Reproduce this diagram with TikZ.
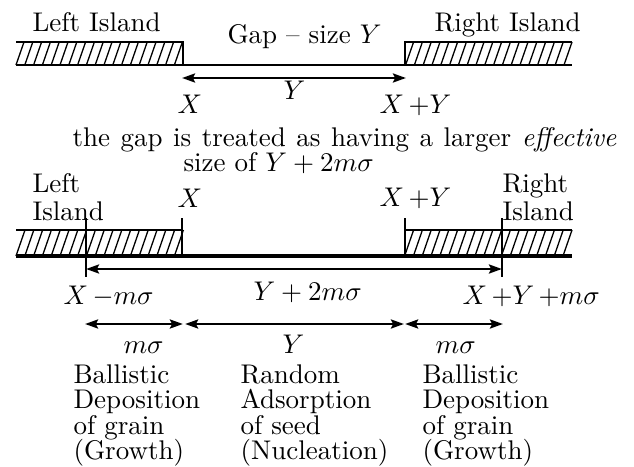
\documentclass[tikz,border=0pt]{standalone}
\usetikzlibrary{arrows.meta}
\setlength{\lineskiplimit}{-10pt}
\tikzset{
  edgeline/.style={line width=1pt},
  hatchline/.style={line width=0.48pt},
  dimarrow/.style={line width=1.1pt,
    {Stealth[length=4.8pt,width=3.3pt,inset=0.8pt]}-{Stealth[length=4.8pt,width=3.3pt,inset=0.8pt]}},
  lbl/.style={inner sep=0pt,anchor=base west},
  blk/.style={inner sep=0pt,anchor=base west,align=left},
}
\begin{document}
\begin{tikzpicture}[x=0.37037pt,y=-0.37037pt,font=\fontsize{10}{9.44}\selectfont]
  \useasboundingbox (0,0) rectangle (634,466);

  % upper sketch: the real gap
  \draw[edgeline] (16,42) -- (183,42) -- (183,65);
  \draw[edgeline] (16,65) -- (572,65);
  \draw[edgeline] (405,65) -- (405,42) -- (572,42);
  \foreach \k in {0,...,18} {
    \draw[hatchline] ({16+8.8*\k},65) -- ({24+8.8*\k},42);
    \draw[hatchline] ({564-8.8*\k},65) -- ({572-8.8*\k},42);
  }
  \coordinate (gapL) at (182,78);
  \coordinate (gapR) at (406,78);
  \draw[dimarrow] (gapL) -- (gapR);

  \node[lbl] (leftT) at (32,32) {Left Island};
  \node[lbl] (gapT) at (227,44) {Gap -- size $Y$};
  \node[lbl] (rightT) at (434,32) {Right Island};
  \node[lbl] (yT) at (283,100) {$Y$};
  \node[lbl] (xT) at (177,113) {$X$};
  \node[lbl] (xyT) at (379,113) {$X\,{+}Y$};

  \node[lbl] (noteA) at (72,146) {\spaceskip=3.9pt the gap is treated as having a larger \emph{effective}};
  \node[lbl] (noteB) at (183,171) {size of $Y+2m\sigma$};

  % lower sketch: the effective gap
  \draw[edgeline] (16,230) -- (182,230);
  \draw[edgeline] (182,218) -- (182,256);
  \draw[line width=1.33pt] (16,256) -- (572,256);
  \draw[edgeline] (405,218) -- (405,256);
  \draw[edgeline] (405,230) -- (572,230);
  \foreach \k in {0,...,18} {
    \draw[hatchline] ({16+8.8*\k},256) -- ({25+8.8*\k},230);
    \draw[hatchline] ({563-8.8*\k},256) -- ({572-8.8*\k},230);
  }
  \coordinate (effL) at (86,269);
  \coordinate (effR) at (502,269);
  \draw[edgeline] (86,218) -- (86,277);
  \draw[edgeline] (502,218) -- (502,277);
  \draw[dimarrow] (effL) -- (effR);

  \node[blk] (leftB) at (32,220) {Left\\[0.9pt]Island};
  \node[lbl] (xB) at (177,208) {$X$};
  \node[lbl] (xyB) at (379,207) {$X\,{+}Y$};
  \node[blk] (rightB) at (502,220) {Right\\[0.9pt]Island};
  \node[lbl] (xmB) at (63,304) {$X\,{-}m\sigma$};
  \node[lbl] (effT) at (253,300) {$Y+2m\sigma$};
  \node[lbl] (xypB) at (462,304) {$X\,{+}Y\,{+}m\sigma$};

  % the three zones
  \coordinate (z0) at (85,324);
  \coordinate (z1) at (184,324);
  \coordinate (z2) at (404,324);
  \coordinate (z3) at (503,324);
  \draw[dimarrow] (z0) -- ([xshift=-0.4pt]z1);
  \draw[dimarrow] ([xshift=0.4pt]z1) -- (z2);
  \draw[dimarrow] ([xshift=0.4pt]z2) -- (z3);
  \node[lbl] (ms1) at (123,353) {$m\sigma$};
  \node[lbl] (yz) at (282,353) {$Y$};
  \node[lbl] (ms2) at (435,353) {$m\sigma$};

  \foreach \x/\a/\b/\c/\d/\nm in {
    73/Ballistic/Deposition/of grain/(Growth)/growL,
    240/Random/Adsorption/of seed/(Nucleation)/nucl,
    422/Ballistic/Deposition/of grain/(Growth)/growR} {
    \node[blk] (\nm) at (\x,459.5) {\a\\\b\\\c\\\d};
  }
\end{tikzpicture}
\end{document}
